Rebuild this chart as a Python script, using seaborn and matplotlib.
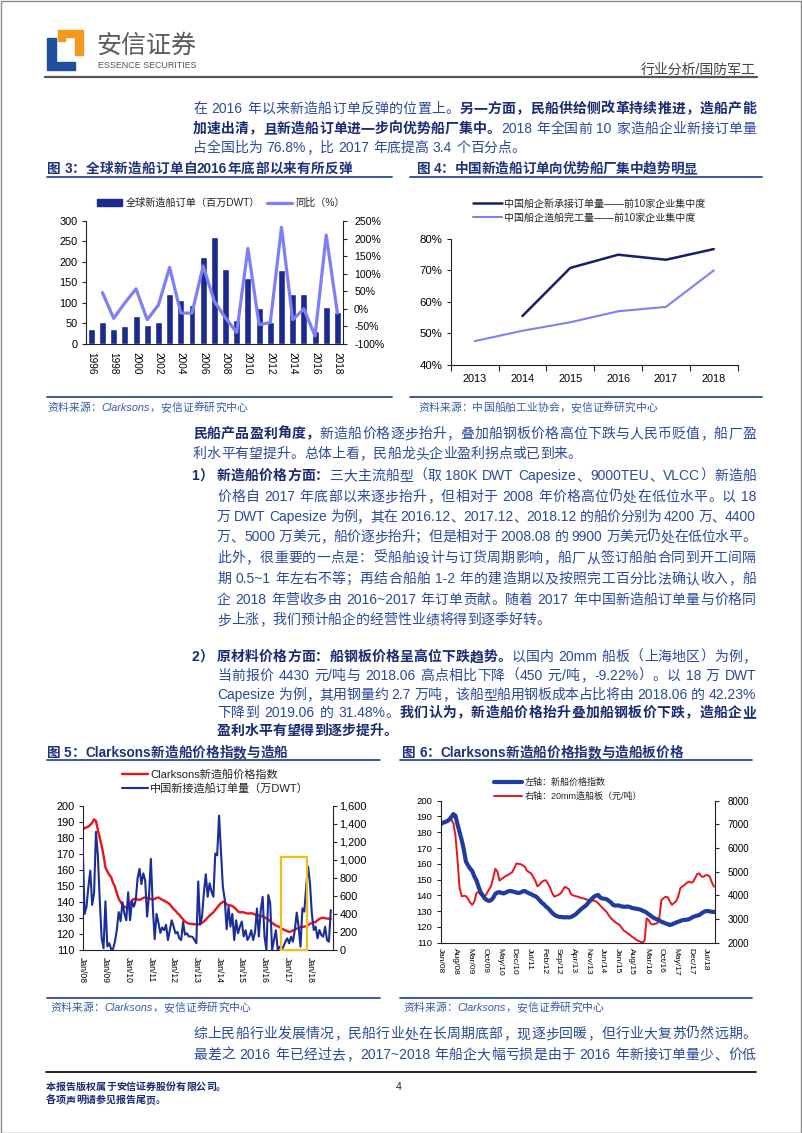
import re
import warnings
import numpy as np
import pandas as pd
import matplotlib
matplotlib.use("Agg")
import matplotlib.pyplot as plt
import seaborn as sns
from matplotlib.lines import Line2D
from matplotlib.patches import Patch, Rectangle, Polygon
from matplotlib.ticker import FuncFormatter

warnings.filterwarnings("ignore")

# ---------------- data ----------------
# Fig 3: global new ship orders (million DWT) and YoY (%)
YEARS3 = [str(y) for y in range(1996, 2019)]
ORDERS3 = [37, 53, 37, 44, 68, 46, 53, 121, 107, 95, 213, 262, 184, 59, 160, 88,
           53, 181, 121, 121, 31, 91, 79]
YOY3 = [46, -27, 17, 57, -31, 11, 118, -12, -12, 122, 21, -26, -67, 172, -45, -39,
        232, -31, 0, -77, 210, -12]          # 1997..2018

# Fig 4: top-10 concentration (%)
YEARS4 = ["2013", "2014", "2015", "2016", "2017", "2018"]
NEW_TOP10 = [np.nan, 55.5, 70.8, 75.0, 73.4, 76.8]
DONE_TOP10 = [47.5, 50.8, 53.5, 57.0, 58.4, 70.0]

# Clarksons newbuilding price index, monthly Jan/08 .. Dec/18
INDEX = [185.0, 186.0, 186.5, 187.0, 188.0, 189.5, 191.5, 190.5, 185.0, 180.0, 175.0, 169.0,
         161.5, 159.0, 157.0, 155.5, 152.0, 149.5, 145.5, 142.0, 140.0, 138.0, 137.0, 136.5,
         137.0, 138.5, 141.0, 141.8, 142.0, 141.5, 141.2, 141.8, 142.5, 142.8, 142.5, 142.2,
         141.8, 141.5, 141.8, 142.5, 142.8, 142.0, 141.3, 140.8, 140.0, 139.5, 138.5, 137.0,
         135.5, 134.5, 133.0, 132.0, 130.5, 129.0, 127.8, 127.0, 126.5, 126.3, 126.2, 126.0,
         126.2, 126.0, 126.3, 127.0, 127.8, 129.0, 130.3, 131.5, 132.5, 133.5, 135.0, 136.5,
         138.0, 139.2, 140.0, 140.2, 138.5, 138.0, 137.8, 137.5, 136.5, 135.5, 134.0, 133.5,
         133.6, 133.5, 133.0, 132.8, 132.8, 132.9, 132.7, 132.0, 131.8, 131.5, 131.3, 131.0,
         130.3, 129.8, 129.0, 128.0, 127.0, 126.0, 125.3, 124.8, 124.2, 123.3, 122.8, 122.2,
         121.8, 121.2, 121.6, 122.2, 122.8, 123.3, 123.8, 124.3, 124.4, 124.6, 124.8, 125.5,
         126.3, 126.8, 127.2, 127.5, 128.5, 129.4, 130.0, 130.1, 129.8, 129.6, 129.5, 129.4]

# China new ship orders (10k DWT), monthly Jan/08 .. Dec/18
ORDERS5 = [1164, 400, 480, 700, 880, 500, 630, 1310, 1050, 560, 130, 20,
           540, 40, 75, 10, 10, 90, 220, 420, 320, 530, 406, 330,
           640, 330, 540, 480, 550, 800, 900, 730, 850, 770, 370, 600,
           1010, 480, 120, 400, 300, 190, 250, 220, 280, 110, 220, 330,
           260, 185, 200, 130, 110, 310, 170, 185, 150, 150, 145, 110,
           75, 760, 280, 370, 640, 840, 590, 740, 650, 590, 1070, 1050,
           1490, 1100, 700, 560, 230, 480, 260, 400, 110, 330, 185, 260,
           315, 150, 220, 110, 150, 220, 110, 200, 460, 150, 440, 590,
           150, 0, 610, 520, 0, 110, 220, 0, 37, 0, 37, 92,
           130, 74, 148, 92, 222, 414, 258, 37, 462, 425, 702, 924,
           739, 400, 222, 258, 129, 222, 166, 148, 258, 111, 92, 443]
LABELS5 = ["Jan/08", "Jan/09", "Jan/10", "Jan/11", "Jan/12", "Jan/13", "Jan/14",
           "Jan/15", "Jan/16", "Jan/17", "Jan/18"]
HIGHLIGHT5 = (104.5, 118.3, 1030)   # months start/end, top (right axis)

# 20mm ship plate price (yuan/ton), monthly Jan/08 .. Nov/18
STEEL = [7000, 7030, 7060, 7100, 7150, 7200, 7050, 6550, 5500, 4300, 3960, 3980,
         3970, 3850, 3700, 3600, 3730, 4100, 4150, 4020, 3960, 3950, 4100, 4250,
         4400, 4750, 5120, 5000, 4620, 4700, 4760, 4820, 4860, 4920, 4980, 5150,
         5350, 5330, 5320, 5270, 5210, 5050, 4980, 4930, 4780, 4620, 4380, 4450,
         4560, 4620, 4640, 4500, 4330, 4100, 3950, 3980, 4020, 4080, 4200, 4360,
         4320, 4260, 4050, 4000, 3970, 3950, 3920, 3890, 3870, 3840, 3810, 3790,
         3780, 3775, 3740, 3660, 3560, 3470, 3380, 3290, 3150, 3040, 2950, 2870,
         2810, 2760, 2640, 2520, 2460, 2400, 2330, 2250, 2200, 2120, 2080, 2040,
         2000, 2100, 3030, 2950, 2790, 2770, 2800, 2820, 3050, 3800, 3880, 3940,
         3920, 3750, 3600, 3680, 3750, 3950, 4300, 4380, 4440, 4520, 4580, 4540,
         4560, 4720, 4900, 4930, 4800, 4780, 4850, 4860, 4790, 4550, 4370]
LABELS6 = ["Jan/08", "Aug/08", "Mar/09", "Oct/09", "May/10", "Dec/10", "Jul/11",
           "Feb/12", "Sep/12", "Apr/13", "Nov/13", "Jun/14", "Jan/15", "Aug/15",
           "Mar/16", "Oct/16", "May/17", "Dec/17", "Jul/18"]

# ---------------- style ----------------
sns.set_theme(style="ticks")
FAM = ["Liberation Sans", "Noto Sans CJK SC", "DejaVu Sans"]
plt.rcParams["font.family"] = FAM
plt.rcParams["axes.unicode_minus"] = False

NAVY = "#1b2a8c"
LAV = "#7f7ff5"
DARK = "#151f6b"
RED = "#e8141c"
NAVY2 = "#1b2d96"
BLUE6 = "#1f3c9e"
GOLD = "#f2bf1a"
TXT = "#2c4a9a"
BTXT = "#1a2a72"
TITLE = "#1d3278"
RULE = "#2d4d9c"
SRC = "#3a5aa8"
LEGC = "#222222"

W, H = 802, 1133
fig = plt.figure(figsize=(W / 100, H / 100), dpi=100, facecolor="white")
renderer = fig.canvas.get_renderer()


def fxy(x, y):
    return (x / W, 1 - y / H)


def axes_px(x0, y0, x1, y1):
    return fig.add_axes([x0 / W, 1 - y1 / H, (x1 - x0) / W, (y1 - y0) / H])


def hline(x0, x1, y, color, lw):
    fig.add_artist(Line2D([x0 / W, x1 / W], [1 - y / H] * 2, color=color, lw=lw,
                          transform=fig.transFigure))


TOKEN = re.compile(r"[A-Za-z0-9.%~\-/+]+| |.")


def text_line(x0, yc, segs, size, target=None, color=TXT, bcolor=BTXT,
              space=0.3, style="normal"):
    em = size * 100 / 72
    items = []
    for s, bold in segs:
        for m in TOKEN.finditer(s):
            tok = m.group(0)
            if tok == " ":
                items.append((None, space * em))
            else:
                t = fig.text(0, 0, tok, fontsize=size,
                             fontweight="bold" if bold else "normal",
                             color=bcolor if bold else color, style=style,
                             ha="left", va="baseline")
                items.append((t, t.get_window_extent(renderer).width))
    nat = sum(w for _, w in items)
    extra = 0.0
    if target is not None and len(items) > 1:
        extra = (target - nat) / (len(items) - 1)
    x = x0
    yb = yc + 0.37 * em
    for t, w in items:
        if t is not None:
            t.set_position(fxy(x, yb))
        x += w + extra


def style_ticks(ax, labelsize):
    for lab in ax.get_xticklabels() + ax.get_yticklabels():
        lab.set_fontsize(labelsize)
        lab.set_color("black")


def px_legend(ax, handles, labels, x, y, size, ncol=1, hl=2.5, htp=0.3, cs=0.8, ls=0.3):
    leg = ax.legend(handles, labels, loc="center left", bbox_to_anchor=fxy(x, y),
                    bbox_transform=fig.transFigure, frameon=False, ncol=ncol,
                    handlelength=hl, handletextpad=htp, columnspacing=cs,
                    labelspacing=ls, borderpad=0, borderaxespad=0,
                    prop={"family": FAM, "size": size})
    for t in leg.get_texts():
        t.set_color(LEGC)
    return leg


# ---------------- page frame & header ----------------
fig.add_artist(Rectangle((0.5 / W, 0.5 / H), (W - 1.5) / W, (H - 1.5) / H, fill=False,
                         edgecolor="#8a8a8a", lw=1, transform=fig.transFigure))
blue_L = [(46.7, 38.3), (55.7, 38.3), (55.7, 61.7), (75, 61.7), (75, 70), (46.7, 70)]
orange_L = [(58.5, 30), (83.3, 30), (83.3, 55), (75, 55), (75, 36.7), (64.5, 36.7),
            (64.5, 41), (58.5, 41)]
fig.add_artist(Polygon([fxy(*p) for p in blue_L], closed=True, color="#1f4f9e",
                       transform=fig.transFigure))
fig.add_artist(Polygon([fxy(*p) for p in orange_L], closed=True, color="#f39a1e",
                       transform=fig.transFigure))
fig.text(*fxy(96, 44 + 0.37 * 25), "安信证券", fontsize=18, color="#5a5a5a",
         ha="left", va="baseline")
fig.text(*fxy(98, 68.3), "ESSENCE SECURITIES", fontsize=6.4, color="#555555",
         ha="left", va="baseline", family="Liberation Sans")
hline(45, 757, 76.7, "#555555", 1.6)
fig.text(*fxy(756, 69 + 0.37 * 13.9), "行业分析/国防军工", fontsize=10, color="#444444",
         ha="right", va="baseline")

# ---------------- body text ----------------
BODY = 10
text_line(193, 108, [("在 2016 年以来新造船订单反弹的位置上。", False),
                     ("另一方面，民船供给侧改革持续推进，造船产能", True)], BODY, target=563)
text_line(193, 128, [("加速出清，且新造船订单进一步向优势船厂集中。", True),
                     ("2018 年全国前 10 家造船企业新接订单量", False)], BODY, target=563)
text_line(193, 147, [("占全国比为 76.8%，比 2017 年底提高 3.4 个百分点。", False)], BODY)

text_line(193, 433, [("民船产品盈利角度，", True),
                     ("新造船价格逐步抬升，叠加船钢板价格高位下跌与人民币贬值，船厂盈", False)],
          BODY, target=563)
text_line(193, 453, [("利水平有望提升。总体上看，民船龙头企业盈利拐点或已到来。", False)], BODY)

text_line(191.5, 475, [("1）", True)], BODY)
list1 = [
    [("新造船价格方面：", True),
     ("三大主流船型（取 180K DWT Capesize、9000TEU、VLCC）新造船", False)],
    [("价格自 2017 年底部以来逐步抬升，但相对于 2008 年价格高位仍处在低位水平。以 18", False)],
    [("万 DWT Capesize 为例，其在 2016.12、2017.12、2018.12 的船价分别为 4200 万、4400", False)],
    [("万、5000 万美元，船价逐步抬升；但是相对于 2008.08 的 9900 万美元仍处在低位水平。", False)],
    [("此外，很重要的一点是：受船舶设计与订货周期影响，船厂从签订船舶合同到开工间隔", False)],
    [("期 0.5~1 年左右不等；再结合船舶 1-2 年的建造期以及按照完工百分比法确认收入，船", False)],
    [("企 2018 年营收多由 2016~2017 年订单贡献。随着 2017 年中国新造船订单量与价格同", False)],
    [("步上涨，我们预计船企的经营性业绩将得到逐季好转。", False)],
]
ys1 = [475, 496, 516, 536, 557, 578, 599, 619]
for i, (segs, y) in enumerate(zip(list1, ys1)):
    text_line(217, y, segs, BODY, target=None if i == len(list1) - 1 else 539)

text_line(191.5, 656, [("2）", True)], BODY)
list2 = [
    [("原材料价格方面：船钢板价格呈高位下跌趋势。", True),
     ("以国内 20mm 船板（上海地区）为例，", False)],
    [("当前报价 4430 元/吨与 2018.06 高点相比下降（450 元/吨，-9.22%）。以 18 万 DWT", False)],
    [("Capesize 为例，其用钢量约 2.7 万吨，该船型船用钢板成本占比将由 2018.06 的 42.23%", False)],
    [("下降到 2019.06 的 31.48%。", False),
     ("我们认为，新造船价格抬升叠加船钢板价下跌，造船企业", True)],
    [("盈利水平有望得到逐步提升。", True)],
]
ys2 = [656, 675, 694, 712, 730]
for i, (segs, y) in enumerate(zip(list2, ys2)):
    text_line(217, y, segs, BODY, target=None if i == len(list2) - 1 else 539)

text_line(193, 1033, [("综上民船行业发展情况，民船行业处在长周期底部，现逐步回暖，但行业大复苏仍然远期。", False)],
          BODY, target=563)
text_line(193, 1054, [("最差之 2016 年已经过去，2017~2018 年船企大幅亏损是由于 2016 年新接订单量少、价低", False)],
          BODY, target=563)

# footer
hline(46, 756, 1072, "#111111", 1.3)
text_line(46, 1086, [("本报告版权属于安信证券股份有限公司。", True)], 7.2)
text_line(46, 1099, [("各项声明请参见报告尾页。", True)], 7.2)
fig.text(*fxy(399, 1086 + 0.37 * 10.4), "4", fontsize=7.5, color="#222222",
         ha="center", va="baseline")

# ---------------- chart titles / sources ----------------
TS = 9.8
text_line(46.7, 168, [("图 3：全球新造船订单自2016年底部以来有所反弹", True)], TS,
          target=305, bcolor=TITLE, space=0.25)
text_line(417, 168, [("图 4：中国新造船订单向优势船厂集中趋势明显", True)], TS,
          target=280, bcolor=TITLE, space=0.25)
text_line(46.7, 752, [("图 5：Clarksons新造船价格指数与造船", True)], TS,
          target=241, bcolor=TITLE, space=0.25)
text_line(402, 752, [("图 6：Clarksons新造船价格指数与造船板价格", True)], TS,
          target=281, bcolor=TITLE, space=0.25)
hline(46.7, 391.7, 177.3, RULE, 1.3)
hline(410, 761.7, 177.3, RULE, 1.3)
hline(46.7, 380, 760, RULE, 1.3)
hline(400, 752, 760, RULE, 1.3)

hline(46.7, 391.7, 397.3, RULE, 1.3)
hline(410, 761.7, 397.3, RULE, 1.3)
hline(46.7, 380, 997.7, RULE, 1.3)
hline(400, 752, 997.7, RULE, 1.3)
SS = 7.8
text_line(47, 406.7, [("资料来源：Clarksons，安信证券研究中心", False)], SS, color=SRC, style="italic")
text_line(418, 406.7, [("资料来源：中国船舶工业协会，安信证券研究中心", False)], SS, color=SRC, style="italic")
text_line(50, 1006.7, [("资料来源：Clarksons，安信证券研究中心", False)], SS, color=SRC, style="italic")
text_line(403, 1006.7, [("资料来源：Clarksons，安信证券研究中心", False)], SS, color=SRC, style="italic")

# ---------------- Fig 3 ----------------
ax3 = axes_px(85.7, 221, 343, 344)
df3 = pd.DataFrame({"year": YEARS3, "orders": ORDERS3})
sns.barplot(data=df3, x="year", y="orders", color=NAVY, saturation=1, width=0.62, ax=ax3)
ax3r = ax3.twinx()
sns.lineplot(x=np.arange(1, len(YEARS3)), y=YOY3, ax=ax3r, color=LAV, linewidth=2.3)
ax3.set_xlim(-0.5, len(YEARS3) - 0.5)
ax3.set_ylim(0, 300)
ax3.set_yticks(range(0, 301, 50))
ax3.set_xticks(range(0, len(YEARS3), 2))
ax3.set_xticklabels(YEARS3[::2], rotation=270)
ax3r.set_ylim(-100, 250)
ax3r.set_yticks(range(-100, 251, 50))
ax3r.yaxis.set_major_formatter(FuncFormatter(lambda v, p: f"{int(v)}%"))
ax3.set_xlabel("")
ax3.set_ylabel("")
ax3r.set_ylabel("")
for a in (ax3, ax3r):
    a.spines["top"].set_visible(False)
    for s in a.spines.values():
        s.set_linewidth(0.8)
        s.set_color("#222222")
ax3.spines["right"].set_visible(False)
ax3r.spines["left"].set_visible(False)
ax3r.spines["bottom"].set_visible(False)
ax3.tick_params(axis="x", length=0, pad=6)
ax3.tick_params(axis="y", length=3, width=0.8, pad=3, direction="out")
ax3r.tick_params(axis="y", length=3, width=0.8, pad=5, direction="out")
style_ticks(ax3, 7.8)
for lab in ax3.get_xticklabels():
    lab.set_fontsize(7.2)
style_ticks(ax3r, 7.6)
px_legend(ax3, [Patch(color=NAVY), Line2D([], [], color=LAV, lw=2.3)],
          ["全球新造船订单（百万DWT）", "同比（%）"], 97, 203, 7.3, ncol=2,
          hl=2.5, htp=0.3, cs=0.7)

# ---------------- Fig 4 ----------------
ax4 = axes_px(450.7, 239, 737.7, 364.7)
x4 = np.arange(len(YEARS4))
sns.lineplot(x=x4, y=NEW_TOP10, ax=ax4, color=DARK, linewidth=1.8)
sns.lineplot(x=x4, y=DONE_TOP10, ax=ax4, color=LAV, linewidth=1.5)
ax4.set_xlim(-0.5, len(YEARS4) - 0.5)
ax4.set_ylim(40, 80)
ax4.set_yticks(range(40, 81, 10))
ax4.yaxis.set_major_formatter(FuncFormatter(lambda v, p: f"{int(v)}%"))
ax4.set_xticks(x4)
ax4.set_xticklabels(YEARS4)
ax4.set_xticks(np.arange(-0.5, len(YEARS4)), minor=True)
ax4.tick_params(axis="x", which="major", length=0, pad=7)
ax4.tick_params(axis="x", which="minor", length=4, width=0.8, direction="out")
ax4.tick_params(axis="y", length=3, width=0.8, pad=3, direction="out")
for s in ("top", "right"):
    ax4.spines[s].set_visible(False)
for s in ax4.spines.values():
    s.set_linewidth(0.8)
    s.set_color("#222222")
style_ticks(ax4, 8.2)
for lab in ax4.get_xticklabels():
    lab.set_fontsize(7.8)
px_legend(ax4, [Line2D([], [], color=DARK, lw=1.8), Line2D([], [], color=LAV, lw=1.5)],
          ["中国船企新承接订单量——前10家企业集中度", "中国船企造船完工量——前10家企业集中度"],
          473, 210.5, 7.2, hl=2.9, htp=0.2, ls=0.4)

# ---------------- Fig 5 ----------------
ax5 = axes_px(82.7, 805.7, 332.7, 950)
sns.lineplot(x=np.arange(len(INDEX)), y=INDEX, ax=ax5, color=RED, linewidth=1.7)
ax5r = ax5.twinx()
sns.lineplot(x=np.arange(len(ORDERS5)), y=ORDERS5, ax=ax5r, color=NAVY2, linewidth=1.5)
hs, he, ht = HIGHLIGHT5
ax5r.add_patch(Rectangle((hs, 0), he - hs, ht, fill=False, edgecolor=GOLD, lw=1.6,
                         clip_on=False, zorder=5))
ax5.set_xlim(0, len(INDEX))
ax5.set_ylim(110, 200)
ax5.set_yticks(range(110, 201, 10))
ax5r.set_ylim(0, 1600)
ax5r.set_yticks(range(0, 1601, 200))
ax5r.yaxis.set_major_formatter(FuncFormatter(lambda v, p: f"{int(v):,}"))
ax5.set_xticks(np.arange(0, len(INDEX), 12)[:len(LABELS5)])
ax5.set_xticklabels(LABELS5, rotation=270)
for a in (ax5, ax5r):
    a.spines["top"].set_visible(False)
    for s in a.spines.values():
        s.set_linewidth(0.8)
        s.set_color("#222222")
ax5.spines["right"].set_visible(False)
ax5r.spines["left"].set_visible(False)
ax5r.spines["bottom"].set_visible(False)
ax5.tick_params(axis="x", length=0, pad=5)
ax5.tick_params(axis="y", length=3, width=0.8, pad=3, direction="out")
ax5r.tick_params(axis="y", length=3, width=0.8, pad=2, direction="out")
style_ticks(ax5, 7.9)
for lab in ax5.get_xticklabels():
    lab.set_fontsize(6.2)
style_ticks(ax5r, 7.9)
px_legend(ax5, [Line2D([], [], color=RED, lw=1.7), Line2D([], [], color=NAVY2, lw=1.5)],
          ["Clarksons新造船价格指数", "中国新接造船订单量（万DWT）"],
          121.7, 781, 8, hl=2.4, htp=0.15, ls=0.29)

# ---------------- Fig 6 ----------------
ax6 = axes_px(440.7, 800.7, 715, 942.7)
ax6r = ax6.twinx()
sns.lineplot(x=np.arange(len(INDEX)), y=INDEX, ax=ax6, color=BLUE6, linewidth=3)
sns.lineplot(x=np.arange(len(STEEL)), y=STEEL, ax=ax6r, color=RED, linewidth=1.4)
ax6.set_zorder(ax6r.get_zorder() + 1)
ax6.patch.set_visible(False)
ax6.set_xlim(0, len(STEEL) - 0.5)
ax6.set_ylim(110, 200)
ax6.set_yticks(range(110, 201, 10))
ax6r.set_ylim(2000, 8000)
ax6r.set_yticks(range(2000, 8001, 1000))
ax6.set_xticks(np.arange(0, len(STEEL), 7)[:len(LABELS6)])
ax6.set_xticklabels(LABELS6, rotation=270)
for a in (ax6, ax6r):
    a.spines["top"].set_visible(False)
    for s in a.spines.values():
        s.set_linewidth(0.8)
        s.set_color("#222222")
ax6.spines["right"].set_visible(False)
ax6r.spines["left"].set_visible(False)
ax6r.spines["bottom"].set_visible(False)
ax6.tick_params(axis="x", length=0, pad=4)
ax6.tick_params(axis="y", length=3, width=0.8, pad=3, direction="out")
ax6r.tick_params(axis="y", length=3, width=0.8, pad=6, direction="out")
style_ticks(ax6, 6.8)
for lab in ax6.get_xticklabels():
    lab.set_fontsize(6.0)
style_ticks(ax6r, 7.0)
px_legend(ax6, [Line2D([], [], color=BLUE6, lw=3), Line2D([], [], color=RED, lw=1.4)],
          ["左轴：新船价格指数", "右轴：20mm造船板（元/吨）"],
          494, 789.5, 6.5, hl=3.1, htp=0.35, ls=0.58)

fig.savefig("out.png", dpi=100, facecolor="white")
